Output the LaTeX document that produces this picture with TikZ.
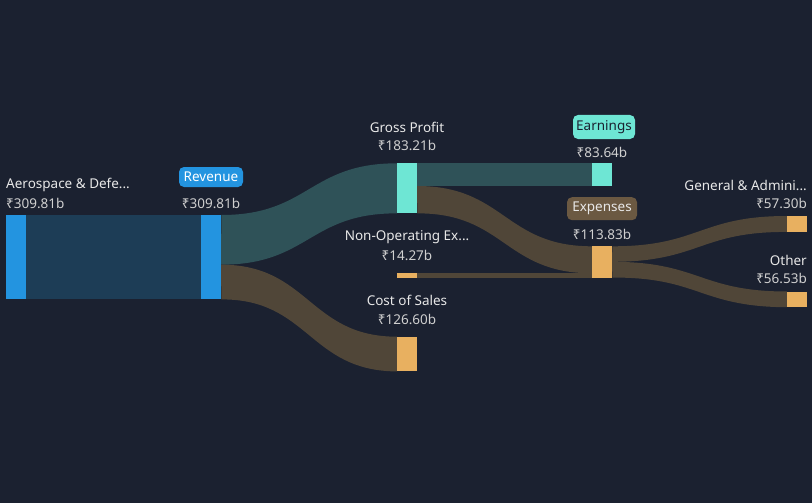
\documentclass[tikz,border=0pt]{standalone}
\usepackage{fontspec}
\setmainfont{Noto Sans}
\usetikzlibrary{calc}
\definecolor{bg}{HTML}{1B2130}
\definecolor{blueflow}{HTML}{1D3D56}
\definecolor{tealflow}{HTML}{2F5258}
\definecolor{brownflow}{HTML}{504638}
\definecolor{bluebar}{HTML}{2394E0}
\definecolor{tealbar}{HTML}{6EE6D4}
\definecolor{orangebar}{HTML}{E8B060}
\definecolor{expbox}{HTML}{6B5942}
\definecolor{lbl}{HTML}{E8E8E8}
\definecolor{val}{HTML}{D0D0D0}
\begin{document}
\begin{tikzpicture}[x=1pt,y=-1pt,
  bar/.style={draw=none,inner sep=0pt,minimum width=20pt},
  lab/.style={text=lbl,inner sep=0pt,font=\fontsize{13.5}{15}\selectfont},
  vlab/.style={text=val,inner sep=0pt,font=\fontsize{13.5}{15}\selectfont},
  tagbox/.style={rounded corners=5pt,inner sep=0pt,minimum height=20pt,font=\fontsize{13.5}{15}\selectfont}]
\fill[bg] (0,0) rectangle (812,503);
\useasboundingbox (0,0) rectangle (812,503);
% bars
\node[bar,fill=bluebar,minimum height=84pt,anchor=north west] (aero) at (6,215) {};
\node[bar,fill=bluebar,minimum height=84pt,anchor=north west] (rev) at (201,215) {};
\node[bar,fill=tealbar,minimum height=49.67pt,anchor=north west] (gp) at (397,163.3) {};
\node[bar,fill=orangebar,minimum height=34.33pt,anchor=north west] (cos) at (397,336.7) {};
\node[bar,fill=orangebar,minimum height=3.87pt,anchor=north west] (nonop) at (397,273.3) {};
\node[bar,fill=tealbar,minimum height=22.68pt,anchor=north west] (earn) at (592,163.3) {};
\node[bar,fill=orangebar,minimum height=30.86pt,anchor=north west] (exp) at (592,246.3) {};
\node[bar,fill=orangebar,minimum height=15.54pt,anchor=north west] (ga) at (787,216) {};
\node[bar,fill=orangebar,minimum height=15.33pt,anchor=north west] (oth) at (787,291.5) {};
% flows
\fill[blueflow] (aero.north east) rectangle (rev.south west);
% rev -> gp
\fill[tealflow] (rev.north east) .. controls (309,215) and (309,163.3) .. (gp.north west)
  -- (gp.south west) .. controls (309,213) and (309,264.67) .. (221,264.67) -- cycle;
% rev -> cos
\fill[brownflow] (221,264.67) .. controls (309,264.67) and (309,336.7) .. (cos.north west)
  -- (cos.south west) .. controls (309,371) and (309,299) .. (rev.south east) -- cycle;
% gp -> earn
\fill[tealflow] (gp.north east) rectangle (earn.south west);
% gp -> exp
\fill[brownflow] (417,186) .. controls (504.5,186) and (504.5,246.3) .. (exp.north west)
  -- (592,273.3) .. controls (504.5,273.3) and (504.5,213) .. (gp.south east) -- cycle;
% nonop -> exp
\fill[brownflow] (nonop.north east) rectangle (exp.south west);
% exp -> ga
\fill[brownflow] (exp.north east) .. controls (699.5,246.3) and (699.5,216) .. (ga.north west)
  -- (ga.south west) .. controls (699.5,231.5) and (699.5,261.8) .. (612,261.8) -- cycle;
% exp -> other
\fill[brownflow] (612,261.8) .. controls (699.5,261.8) and (699.5,291.5) .. (oth.north west)
  -- (oth.south west) .. controls (699.5,306.8) and (699.5,277.2) .. (exp.south east) -- cycle;
% redraw bars on top
\fill[bluebar] (aero.north west) rectangle (aero.south east);
\fill[bluebar] (rev.north west) rectangle (rev.south east);
\fill[tealbar] (gp.north west) rectangle (gp.south east);
\fill[orangebar] (cos.north west) rectangle (cos.south east);
\fill[orangebar] (nonop.north west) rectangle (nonop.south east);
\fill[tealbar] (earn.north west) rectangle (earn.south east);
\fill[orangebar] (exp.north west) rectangle (exp.south east);
\fill[orangebar] (ga.north west) rectangle (ga.south east);
\fill[orangebar] (oth.north west) rectangle (oth.south east);
% labels
\node[lab,anchor=west] (aerol) at (6,185) {Aerospace \& Defe...};
\node[vlab,anchor=west] (aerov) at (6,203.5) {₹309.81b};
\node[tagbox,fill=bluebar,text=white,minimum width=64pt] (revl) at (211,177) {Revenue};
\node[vlab] (revv) at (211,203.5) {₹309.81b};
\node[lab] (gpl) at (407,127) {Gross Profit};
\node[vlab] (gpv) at (407,145.5) {₹183.21b};
\node[lab] (nonl) at (407,237) {Non-Operating Ex...};
\node[vlab] (nonv) at (407,255.5) {₹14.27b};
\node[lab] (cosl) at (407,300) {Cost of Sales};
\node[vlab] (cosv) at (407,319.5) {₹126.60b};
\node[tagbox,fill=tealbar,text=bg,minimum width=62pt,minimum height=24pt] (earnl) at (604,127) {Earnings};
\node[vlab] (earnv) at (602,152.5) {₹83.64b};
\node[tagbox,fill=expbox,text=lbl,minimum width=70pt,minimum height=23pt] (expl) at (602,208.7) {Expenses};
\node[vlab] (expv) at (602,234.5) {₹113.83b};
\node[lab,anchor=east] (gal) at (807,185) {General \& Admini...};
\node[vlab,anchor=east] (gav) at (807,203.5) {₹57.30b};
\node[lab,anchor=east] (othl) at (807,260) {Other};
\node[vlab,anchor=east] (othv) at (807,278.5) {₹56.53b};
\end{tikzpicture}
\end{document}
